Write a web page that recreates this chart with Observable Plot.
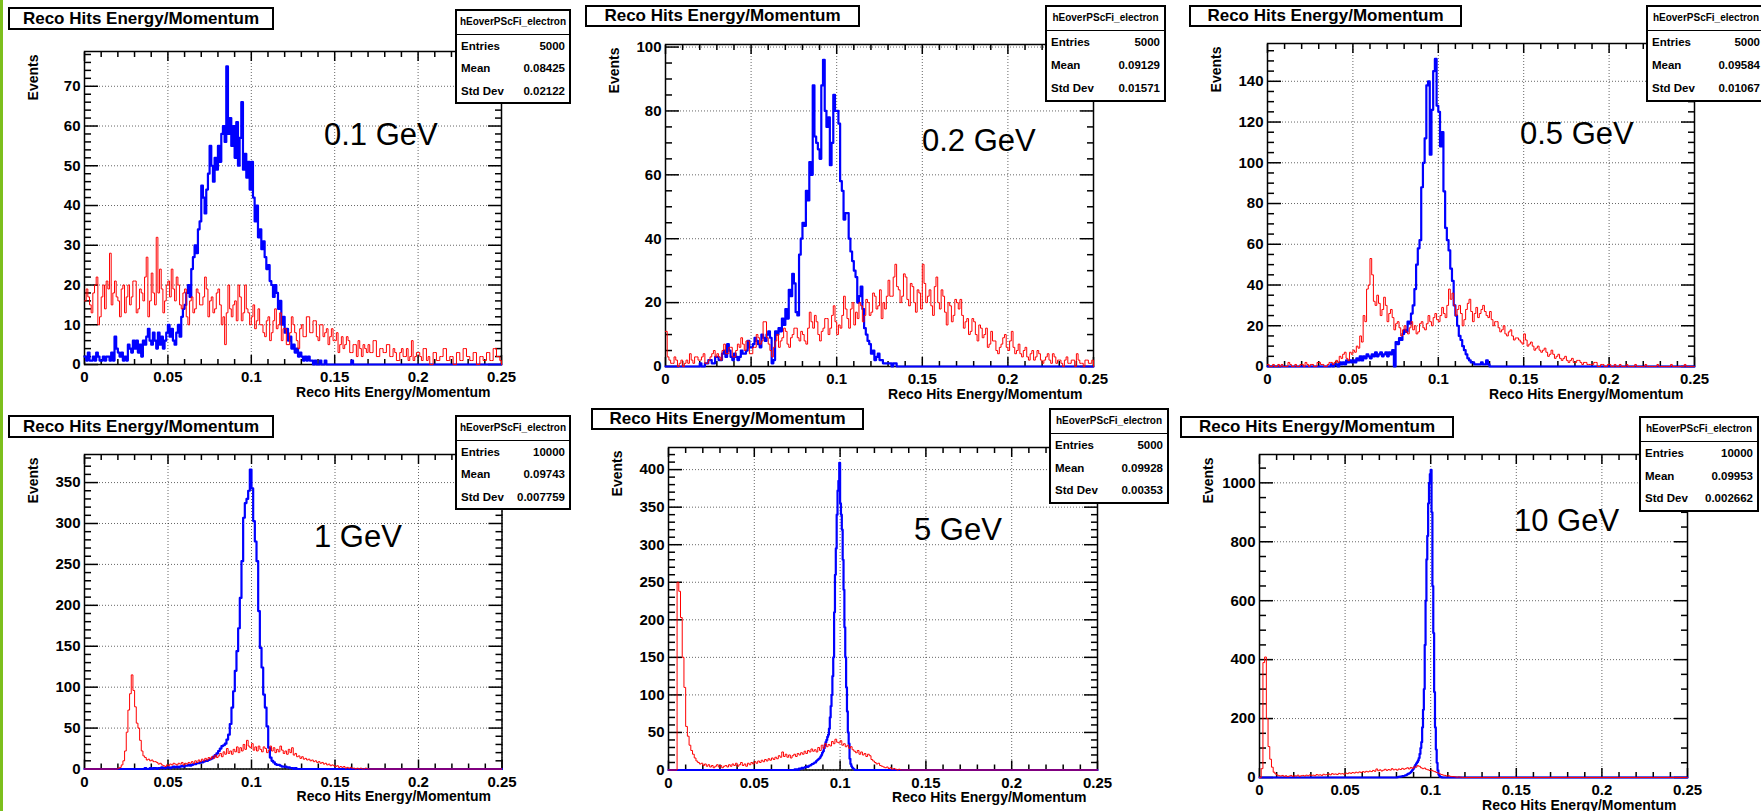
<!DOCTYPE html>
<html>
<head>
<meta charset="utf-8">
<script src="https://cdn.jsdelivr.net/npm/d3@7"></script>
<script src="https://cdn.jsdelivr.net/npm/@observablehq/plot@0.6"></script>
<style>
html,body{margin:0;padding:0;background:#fff;overflow:hidden;}
#root{position:relative;width:1761px;height:811px;overflow:hidden;font-family:"Liberation Sans",Arial,Helvetica,sans-serif;color:#000;}
.stripe{position:absolute;left:0;top:0;width:3px;height:811px;background:#7cbf1c;}
.panel{position:absolute;}
.title{position:absolute;box-sizing:border-box;border:2px solid #000;background:#fff;font-weight:bold;font-size:17px;text-align:center;white-space:nowrap;}
.stats{position:absolute;box-sizing:border-box;border:2px solid #000;background:#fff;font-weight:bold;}
.stats .hdr{box-sizing:border-box;border-bottom:1.5px solid #000;font-size:10px;text-align:center;white-space:nowrap;}
.stats .row{display:flex;justify-content:space-between;padding:0 4px;font-size:11.5px;white-space:nowrap;}
.energy{position:absolute;font-size:31px;line-height:31px;white-space:nowrap;}
</style>
</head>
<body>
<div id="root"><div class="stripe"></div></div>
<script>
// ---------------- data (bin contents) ----------------
const xTicks = [0, 0.05, 0.1, 0.15, 0.2, 0.25];
const energyLabels = ["0.1 GeV", "0.2 GeV", "0.5 GeV", "1 GeV", "5 GeV", "10 GeV"];
const histName = "hEoverPScFi_electron";
const statsEntries = ["5000", "5000", "5000", "10000", "5000", "10000"];
const statsMean = ["0.08425", "0.09129", "0.09584", "0.09743", "0.09928", "0.09953"];
const statsStdDev = ["0.02122", "0.01571", "0.01067", "0.007759", "0.00353", "0.002662"];
const yMajorStep = [10, 20, 20, 50, 50, 200];
const yMinorStep = [2, 5, 5, 10, 10, 50];

// each series: first bin low edge, bin width, bin contents
const electron_0p1_start = 0, electron_0p1_width = 0.001;
const electron_0p1 = [
  2,1,3,1,1,2,1,3,2,1, 1,2,1,2,2,1,3,1,7,4,
  3,2,3,1,2,1,5,4,3,6, 4,6,3,5,2,6,5,7,9,6,
  5,8,6,4,8,5,7,4,6,8, 10,7,9,6,5,8,10,7,12,14,
  15,18,20,17,24,27,30,28,34,36, 45,42,38,44,48,55,50,46,52,49,
  55,51,58,60,56,75,58,62,55,60, 52,61,50,57,66,49,53,47,51,44,
  51,42,36,40,32,34,29,31,27,24, 25,21,20,17,20,18,14,16,10,12,
  8,9,6,7,4,5,3,4,2,3, 2,1,2,1,2,1,1,0,1,0,
  0,1,0,0,1,0,0,0,0,0, 0,0,0,0,0,0,0,0,0,0, 1,0];
const pion_0p1_start = 0, pion_0p1_width = 0.001;
const pion_0p1 = [
  16,19,17,15,13,18,20,22,10,12, 17,20,14,21,19,28,15,18,21,17,
  16,12,19,20,13,17,20,15,17,21, 21,13,14,19,18,16,22,27,12,16,
  23,18,15,32,18,24,19,13,16,20, 21,17,24,19,16,22,20,15,14,18,
  19,12,10,16,17,13,14,19,18,15, 15,17,22,19,12,16,17,13,14,18,
  19,15,10,12,5,13,20,14,12,15, 16,11,20,17,11,13,20,14,13,10,
  12,15,9,11,14,10,10,8,7,11, 12,6,8,11,14,9,10,13,6,9,
  9,5,5,8,12,10,8,6,4,9, 10,7,7,12,12,8,8,11,11,7,
  6,10,10,7,8,9,5,7,9,6, 6,8,3,5,7,4,5,7,6,3,
  3,5,5,2,6,4,2,5,4,3, 5,3,3,6,6,2,2,4,4,3,
  3,5,5,2,2,4,3,1,1,3, 4,2,2,4,1,2,6,1,2,3,
  3,2,1,4,4,1,2,0,0,3, 3,1,1,2,2,4,4,1,1,2,
  2,0,0,3,3,1,1,4,4,2, 2,1,1,3,3,0,0,2,2,1,
  1,3,3,1,1,4,4,2,2,1];

const electron_0p2_start = 0.02, electron_0p2_width = 0.001;
const electron_0p2 = [
  1,0,0,1,1,2,2,1,1,3, 3,2,2,4,5,3,7,5,3,2,
  4,3,2,3,5,4,4,5,8,6, 6,7,9,8,7,6,10,9,8,10,
  11,9,1,2,11,10,12,11,15,13, 18,15,24,22,29,26,17,16,35,40,
  45,44,55,52,64,60,88,72,70,68, 65,88,96,80,75,78,63,70,85,80,
  80,76,58,55,46,48,48,40,36,33, 30,28,20,22,25,18,12,10,8,7,
  4,5,2,3,4,2,2,1,1,1, 1,1,0,1,1,0];
const pion_0p2_start = 0, pion_0p2_width = 0.001;
const pion_0p2 = [
  11,3,2,1,1,3,2,0,1,2, 0,1,2,1,4,2,1,3,3,2,
  2,3,4,1,1,2,3,4,5,3, 4,3,2,5,7,4,4,6,6,3,
  3,5,7,6,9,7,5,8,8,4, 4,6,6,10,9,7,8,14,14,9,
  7,5,3,6,8,10,6,8,9,12, 11,7,6,9,10,12,12,9,8,11,
  10,8,7,12,17,14,12,16,14,10, 8,11,12,15,15,10,12,16,19,14,
  10,13,12,16,22,18,15,12,18,20, 13,17,15,20,19,14,16,21,20,16,
  17,23,22,18,19,24,15,20,18,22, 27,22,22,28,32,25,24,20,22,29,
  28,21,19,26,25,20,17,24,23,18, 32,26,20,22,24,19,16,25,28,20,
  18,24,22,17,13,20,19,14,16,21, 20,18,21,16,12,14,15,10,11,15,
  14,10,8,13,12,9,10,12,6,7, 11,8,8,5,4,6,7,9,10,6,
  5,8,11,6,4,5,7,4,3,5, 6,3,2,4,5,2,3,5,4,2,
  1,2,3,4,2,1,4,3,1,2, 2,1,0,2,3,1,1,2,2,0,
  4,2,1,1,0,2,2,1,1,2];

const electron_0p5_start = 0.035, electron_0p5_width = 0.001;
const electron_0p5 = [
  0,0,1,0,1,1,0,2,1,2, 1,3,2,3,2,3,2,4,3,5,
  3,5,4,6,5,4,6,5,7,5, 6,7,5,6,7,5,7,6,8,0,
  12,11,14,13,16,18,17,22,21,26, 30,38,50,58,62,88,100,112,138,140,
  104,126,145,151,128,125,108,115,86,68, 62,57,48,42,30,25,20,15,13,10,
  8,6,4,3,2,2,1,1,1,1, 2,1,1,3,1,0];
const pion_0p5_start = 0, pion_0p5_width = 0.001;
const pion_0p5 = [
  1,0,0,1,0,0,1,0,1,0, 0,0,2,1,0,0,1,0,0,1,
  1,0,2,1,0,1,1,0,0,2, 2,1,1,0,0,1,2,2,1,2,
  3,2,5,4,6,7,4,3,7,6, 8,7,10,9,15,12,25,22,38,40,
  53,45,32,30,35,31,25,28,34,30, 22,26,28,24,18,21,22,19,15,18,
  20,17,16,19,22,18,20,16,17,21, 22,19,18,21,25,22,20,24,26,23,
  22,25,29,26,24,30,38,33,36,30, 25,28,30,26,20,23,28,31,33,27,
  22,26,29,24,26,28,30,27,25,24, 27,23,20,22,22,19,17,18,20,16,
  15,17,18,15,13,14,14,13,12,11, 16,13,10,11,12,10,8,9,10,8,
  7,8,9,7,5,6,8,6,4,5, 6,4,3,4,5,3,2,3,4,2,
  2,3,3,2,1,2,2,1,1,1, 1,2,2,0,0,1,1,0,0,1,
  1,0,0,1,0,0,1,0,0,0, 1,0,0,0,0,1,0,0,0,0,
  0,1,0,0,0,0,0,0,1,0, 0,0,0,0,0,0,1,0,0,0,
  0,0,0,0,1,0,0,0,0,0];

const electron_1_start = 0.035, electron_1_width = 0.001;
const electron_1 = [0,1,0,0,1,0,1,1,0,1, 1,2,1,1,2,2,1,2,3,2, 3,2,3,4,3,4,4,5,4,5, 6,6,7,7,8,8,9,10,10,11, 12,13,15,17,19,22,25,28,29,31, 36,42,55,75,95,120,144,172,209,254, 307,325,330,340,366,343,303,278,254,193, 148,124,91,75,52,26,14,10,8,6, 5,5,4,3,3,3,2,2,1,1, 0,1,0];
const pion_1_start = 0.018, pion_1_width = 0.001;
const pion_1 = [0,0,1,2,5,10,22,45,72,92, 115,96,76,56,50,35,22,16,14,11, 12,10,11,9,9,8,6,7,5,4, 3,5,4,6,5,7,6,5,7,6, 8,5,7,6,8,7,9,7,10,8, 11,9,12,10,13,11,14,12,15,13, 17,14,16,19,15,21,18,25,19,22, 18,24,21,27,20,26,22,30,24,35, 28,26,31,23,27,22,28,24,21,27, 25,20,23,28,22,26,20,24,21,28, 23,19,22,18,24,20,26,17,19,15, 16,13,15,12,13,11,12,10,11,9, 10,8,9,7,8,6,7,5,6,4, 5,4,3,4,2,3,2,3,1,2, 1,2,1,1,0,1,0,1,0,0, 1,0,0];

const electron_5_start = 0.073, electron_5_width = 0.0005;
const electron_5 = [0,1,0,1,1,0,2,1,2,3, 2,3,3,4,4,5,4,5,6,6, 7,8,8,9,10,10,12,13,14,15, 16,18,20,23,25,29,33,37,40,44, 47,55,70,85,100,125,150,210,260,295, 340,372,385,409,355,340,320,280,240,190, 150,110,78,50,35,15,8,5,3,2, 1,0];
const pion_5_start = 0.004, pion_5_width = 0.001;
const pion_5 = [0,250,238,203,150,110,58,45,33,26, 21,16,12,10,8,9,6,8,5,7, 4,6,3,5,7,4,6,3,5,6, 4,7,5,8,6,9,5,7,10,6, 8,5,9,7,10,8,11,9,12,10, 13,11,14,12,15,13,16,14,17,15, 19,17,24,18,21,17,20,16,19,21, 18,22,20,23,21,25,22,26,24,28, 25,27,24,30,26,33,29,35,31,34, 32,38,35,41,37,36,39,33,35,31, 33,29,31,27,25,23,26,21,24,20, 22,18,21,19,14,12,10,8,9,6, 5,4,3,4,2,3,1,2,1,0, 1,0];

const electron_10_start = 0.080, electron_10_width = 0.0005;
const electron_10 = [0,1,2,2,3,3,4,5,5,6, 7,8,10,12,13,15,17,20,24,28, 33,38,43,48,52,58,66,80,100,120, 170,230,300,450,600,740,820,930,1000,1030, 1044,900,650,490,290,170,95,50,24,10, 5,2,1,0];
const pion_10_start = 0.001, pion_10_width = 0.001;
const pion_10 = [30,390,409,200,105,62,35,18,12,8, 6,5,7,4,6,3,5,7,4,6, 5,8,4,6,7,5,8,6,9,7, 8,6,10,8,9,7,11,9,10,12, 9,13,11,12,10,14,12,13,11,15, 13,16,14,17,15,18,16,19,17,20, 18,21,19,22,20,24,21,29,23,26, 22,25,28,24,27,25,30,26,28,25, 29,27,31,28,30,33,29,34,31,36, 35,40,38,33,30,32,28,26,24,25, 22,20,17,15,12,10,8,7,5,6, 4,3,3,2,1,2,1,0];

// ---------------- layout (pixel geometry, not data) ----------------
const layout = [
  {L: 83.5, R: 500.5, T: 51,    B: 364, title: [8, 7, 266, 23],     stats: [455, 9, 116, 95],   energy: [324, 146]},
  {L: 665,  R: 1093,  T: 44,    B: 366, title: [585, 5, 275, 22],   stats: [1045, 5, 121, 97],  energy: [922, 152]},
  {L: 1267, R: 1694,  T: 43,    B: 366, title: [1189, 5, 273, 22],  stats: [1646, 5, 120, 97],  energy: [1520, 145]},
  {L: 83.5, R: 501,   T: 453.5, B: 768, title: [8, 415, 266, 23],   stats: [455, 415, 116, 95], energy: [314, 548]},
  {L: 668,  R: 1097,  T: 446.5, B: 769, title: [591, 408, 273, 22], stats: [1049, 408, 120, 96], energy: [914, 541]},
  {L: 1259, R: 1687,  T: 454,   B: 777, title: [1180, 416, 274, 22], stats: [1639, 416, 120, 96], energy: [1514, 532]}
];

const series = [
  [[electron_0p1_start, electron_0p1_width, electron_0p1], [pion_0p1_start, pion_0p1_width, pion_0p1]],
  [[electron_0p2_start, electron_0p2_width, electron_0p2], [pion_0p2_start, pion_0p2_width, pion_0p2]],
  [[electron_0p5_start, electron_0p5_width, electron_0p5], [pion_0p5_start, pion_0p5_width, pion_0p5]],
  [[electron_1_start, electron_1_width, electron_1], [pion_1_start, pion_1_width, pion_1]],
  [[electron_5_start, electron_5_width, electron_5], [pion_5_start, pion_5_width, pion_5]],
  [[electron_10_start, electron_10_width, electron_10], [pion_10_start, pion_10_width, pion_10]]
];

// histogram outline as step points over the full axis range
function steps([start, width, counts]) {
  const pts = [];
  if (start > 0) pts.push({x: 0, y: 0});
  counts.forEach((c, i) => pts.push({x: start + i * width, y: c}));
  const end = Math.min(start + counts.length * width, 0.25);
  pts.push({x: end, y: 0});
  if (end < 0.25) pts.push({x: 0.25, y: 0});
  return pts;
}

const root = document.getElementById("root");
const FONT = '"Liberation Sans", Arial, Helvetica, sans-serif';
const fmt = d3.format("~g");
const ML = 75, MR = 25, MT = 15, MB = 45;

layout.forEach((g, p) => {
  const [blueS, redS] = series[p];
  const blue = steps(blueS), red = steps(redS);
  const yMax = 1.05 * d3.max([...blueS[2], ...redS[2]]);
  const step = yMajorStep[p], mstep = yMinorStep[p];
  const yMaj = d3.range(0, yMax + 1e-9, step);
  const yMin = d3.range(0, yMax, mstep).filter(v => Math.abs(v / step - Math.round(v / step)) > 1e-6);
  const xMin = d3.range(0, 0.2501, 0.01).filter(v => Math.abs(v / 0.05 - Math.round(v / 0.05)) > 1e-6);

  const w = g.R - g.L + ML + MR, h = g.B - g.T + MT + MB;
  const grid = {stroke: "#000", strokeOpacity: 0.6, strokeDasharray: "1,2", strokeWidth: 1};
  const chart = Plot.plot({
    width: w, height: h,
    marginLeft: ML, marginRight: MR, marginTop: MT, marginBottom: MB,
    x: {domain: [0, 0.25], axis: null},
    y: {domain: [0, yMax], axis: null},
    style: {background: "transparent", overflow: "visible", fontFamily: FONT, fontWeight: "bold", fontSize: "15px", color: "#000"},
    marks: [
      Plot.gridX(xTicks, grid),
      Plot.gridY(yMaj, grid),
      Plot.frame({stroke: "#000", strokeWidth: 1.5}),
      // inward tick marks on all four sides
      Plot.axisY(yMaj, {anchor: "left", tickSize: -14, fill: "none", stroke: "#000", strokeWidth: 1.5}),
      Plot.axisY(yMin, {anchor: "left", tickSize: -7, fill: "none", stroke: "#000", strokeWidth: 1.5}),
      Plot.axisY(yMaj, {anchor: "right", tickSize: -14, fill: "none", stroke: "#000", strokeWidth: 1.5}),
      Plot.axisY(yMin, {anchor: "right", tickSize: -7, fill: "none", stroke: "#000", strokeWidth: 1.5}),
      Plot.axisX(xTicks, {anchor: "bottom", tickSize: -9, fill: "none", stroke: "#000", strokeWidth: 1.5}),
      Plot.axisX(xMin, {anchor: "bottom", tickSize: -5, fill: "none", stroke: "#000", strokeWidth: 1.5}),
      Plot.axisX(xTicks, {anchor: "top", tickSize: -9, fill: "none", stroke: "#000", strokeWidth: 1.5}),
      Plot.axisX(xMin, {anchor: "top", tickSize: -5, fill: "none", stroke: "#000", strokeWidth: 1.5}),
      // histograms drawn over the frame, as ROOT does
      Plot.line(blue, {x: "x", y: "y", curve: "step-after", stroke: "#0000ff", strokeWidth: 2.2}),
      Plot.line(red, {x: "x", y: "y", curve: "step-after", stroke: "#ff0000", strokeWidth: 1}),
      // tick labels
      Plot.axisY(yMaj, {anchor: "left", tickSize: 0, tickPadding: 4, label: null, tickFormat: fmt, fontSize: 15, fontWeight: "bold", fill: "#000"}),
      Plot.axisX(xTicks, {anchor: "bottom", tickSize: 0, tickPadding: 7, label: null, tickFormat: fmt, fontSize: 15, fontWeight: "bold", fill: "#000"}),
      // axis titles
      Plot.text(["Events"], {text: d => d, frameAnchor: "top-left", rotate: -90, textAnchor: "end", lineAnchor: "middle", dx: -51, dy: 3, fontSize: 14, fontWeight: "bold", fill: "#000"}),
      Plot.text(["Reco Hits Energy/Momentum"], {text: d => d, frameAnchor: "bottom-right", textAnchor: "end", lineAnchor: "bottom", dx: -11, dy: 32, fontSize: 14, fontWeight: "bold", fill: "#000"})
    ]
  });
  const holder = document.createElement("div");
  holder.className = "panel";
  holder.style.left = (g.L - ML) + "px";
  holder.style.top = (g.T - MT) + "px";
  holder.appendChild(chart);
  root.appendChild(holder);

  // title box
  const t = document.createElement("div");
  t.className = "title";
  const [tx, ty, tw, th] = g.title;
  Object.assign(t.style, {left: tx + "px", top: ty + "px", width: tw + "px", height: th + "px", lineHeight: (th - 4) + "px"});
  t.textContent = "Reco Hits Energy/Momentum";
  root.appendChild(t);

  // energy label
  const e = document.createElement("div");
  e.className = "energy";
  Object.assign(e.style, {left: g.energy[0] + "px", top: (g.energy[1] - 27) + "px"});
  e.textContent = energyLabels[p];
  root.appendChild(e);

  // statistics box
  const [sx, sy, sw, sh] = g.stats;
  const s = document.createElement("div");
  s.className = "stats";
  Object.assign(s.style, {left: sx + "px", top: sy + "px", width: sw + "px", height: sh + "px"});
  const hdrH = Math.round(sh * 0.25);
  const rowH = (sh - 4 - hdrH) / 3;
  const hdr = document.createElement("div");
  hdr.className = "hdr";
  Object.assign(hdr.style, {height: hdrH + "px", lineHeight: (hdrH - 2) + "px"});
  hdr.textContent = histName;
  s.appendChild(hdr);
  [["Entries", statsEntries[p]], ["Mean", statsMean[p]], ["Std Dev", statsStdDev[p]]].forEach(([k, v]) => {
    const r = document.createElement("div");
    r.className = "row";
    Object.assign(r.style, {height: rowH + "px", lineHeight: rowH + "px"});
    const a = document.createElement("span"); a.textContent = k;
    const b = document.createElement("span"); b.textContent = v;
    r.appendChild(a); r.appendChild(b);
    s.appendChild(r);
  });
  root.appendChild(s);
});
</script>
</body>
</html>
